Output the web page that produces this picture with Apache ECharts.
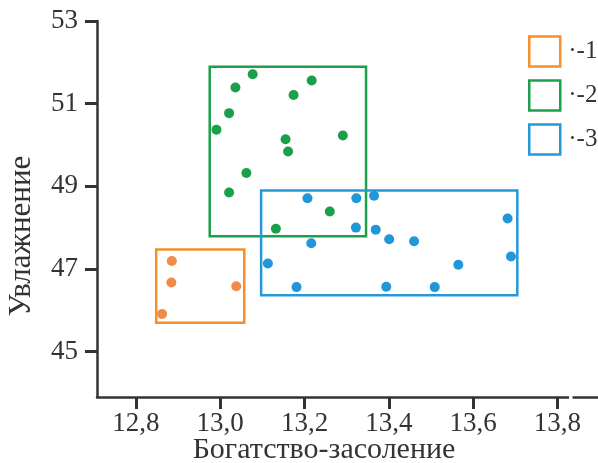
<!DOCTYPE html>
<html>
<head>
<meta charset="utf-8">
<title>Увлажнение / Богатство-засоление</title>
<script src="https://cdn.jsdelivr.net/npm/echarts@6/dist/echarts.min.js"></script>
<style>
  html, body { margin: 0; padding: 0; background: #fff; }
  #chart { width: 598px; height: 463px; }
</style>
</head>
<body>
<div id="chart"></div>
<script>
// group names (legend)
var groupNames = ['1', '2', '3'];

// points of each group: [x, y]
var points1 = [[12.885, 47.19], [12.884, 46.67], [13.038, 46.58], [12.862, 45.91]];
var points2 = [
  [13.077, 51.71], [13.036, 51.39], [13.217, 51.56], [13.174, 51.21],
  [13.021, 50.77], [12.991, 50.37], [13.291, 50.23], [13.155, 50.14],
  [13.161, 49.84], [13.062, 49.32], [13.021, 48.85], [13.260, 48.39],
  [13.132, 47.97]
];
var points3 = [
  [13.207, 48.71], [13.323, 48.71], [13.365, 48.77], [13.682, 48.22],
  [13.322, 48.00], [13.369, 47.95], [13.401, 47.72], [13.460, 47.67],
  [13.216, 47.62], [13.113, 47.13], [13.690, 47.30], [13.565, 47.10],
  [13.181, 46.56], [13.394, 46.57], [13.509, 46.56]
];

// boxes round the groups: [xmin, ymin, xmax, ymax]
var box1 = [12.848, 45.70, 13.057, 47.47];
var box2 = [12.975, 47.79, 13.346, 51.89];
var box3 = [13.097, 46.36, 13.705, 48.90];

// ticks
var xTicks = [12.8, 13.0, 13.2, 13.4, 13.6, 13.8];
var yTicks = [45, 47, 49, 51, 53];

var boxColors = ['#F5902A', '#1DA04B', '#2698D9'];
var dotColors = ['#F08B48', '#1A9F4A', '#2196D8'];
var font = 'Liberation Serif';
var ink = '#333';

var chart = echarts.init(document.getElementById('chart'));

function groupSeries(i, pts, box) {
  return {
    name: groupNames[i],
    type: 'scatter',
    data: pts,
    symbolSize: 10,
    itemStyle: { color: dotColors[i], opacity: 1 },
    z: 5,
    markArea: {
      silent: true,
      itemStyle: { color: 'rgba(0,0,0,0)', borderColor: boxColors[i], borderWidth: 2.5 },
      data: [[{ coord: [box[0], box[1]] }, { coord: [box[2], box[3]] }]]
    }
  };
}

var option = {
  animation: false,
  grid: { left: 97, right: 0, top: 21, bottom: 66 },
  xAxis: {
    type: 'value',
    min: 12.7075,
    max: 13.8965,
    splitLine: { show: false },
    axisLine: { onZero: false, lineStyle: { color: ink, width: 2.5 } },
    axisTick: { customValues: xTicks, length: 12, lineStyle: { color: ink, width: 3 } },
    axisLabel: {
      customValues: xTicks,
      margin: 13,
      fontFamily: font,
      fontSize: 27,
      color: ink,
      formatter: function (v) { return v.toFixed(1).replace('.', ','); }
    }
  },
  yAxis: {
    type: 'value',
    min: 43.9,
    max: 53,
    splitLine: { show: false },
    axisLine: { show: true, onZero: false, lineStyle: { color: ink, width: 2.5 } },
    axisTick: { show: true, customValues: yTicks, length: 12, lineStyle: { color: ink, width: 3 } },
    axisLabel: {
      customValues: yTicks,
      margin: 19,
      fontFamily: font,
      fontSize: 27,
      color: ink
    }
  },
  legend: {
    orient: 'vertical',
    left: 528,
    top: 35,
    padding: 0,
    itemWidth: 31,
    itemHeight: 30,
    itemGap: 11,
    selectedMode: false,
    formatter: function (n) { return '\u00b7-' + n; },
    textStyle: { fontFamily: font, fontSize: 25, color: ink, lineHeight: 25, padding: [8, 0, 0, 3] },
    data: groupNames.map(function (n, i) {
      return {
        name: n,
        icon: 'rect',
        itemStyle: { color: 'rgba(0,0,0,0)', borderColor: boxColors[i], borderWidth: 2.5 }
      };
    })
  },
  graphic: [
    {
      type: 'text',
      x: 324, y: 450,
      style: { text: 'Богатство-засоление', font: '30px "Liberation Serif"', fill: ink, align: 'center', verticalAlign: 'middle' }
    },
    {
      type: 'text',
      x: 22, y: 236,
      rotation: Math.PI / 2,
      style: { text: 'Увлажнение', font: '31px "Liberation Serif"', fill: ink, align: 'center', verticalAlign: 'middle' }
    },
    {
      // small break in the x axis line
      type: 'rect',
      shape: { x: 569, y: 390, width: 3.5, height: 14 },
      style: { fill: '#fff' },
      z: 100
    }
  ],
  series: [
    groupSeries(0, points1, box1),
    groupSeries(1, points2, box2),
    groupSeries(2, points3, box3)
  ]
};

chart.setOption(option);
</script>
</body>
</html>
